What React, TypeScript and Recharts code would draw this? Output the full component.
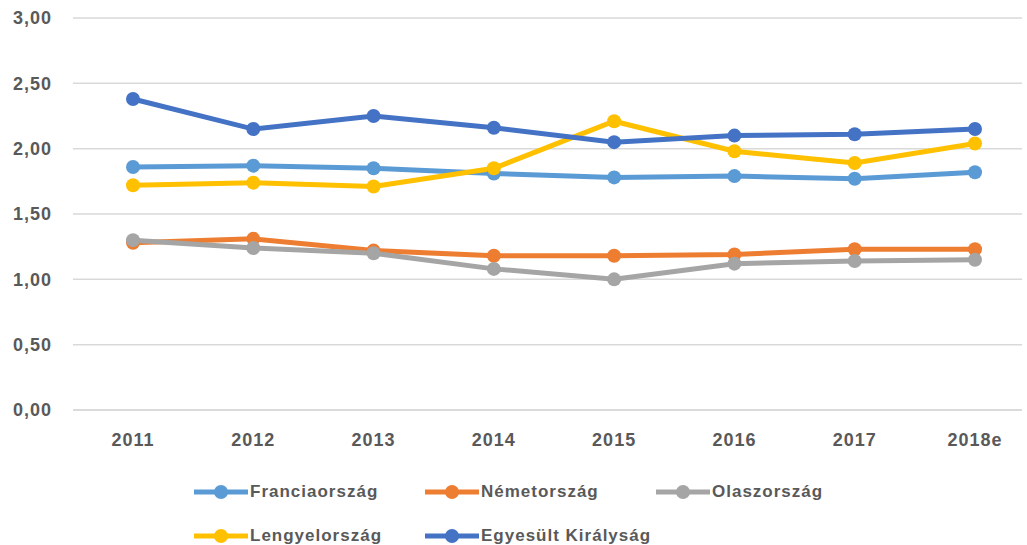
import { LineChart, Line, XAxis, YAxis, CartesianGrid } from "recharts";

const years = ["2011", "2012", "2013", "2014", "2015", "2016", "2017", "2018e"];
const francia = [1.86, 1.87, 1.85, 1.81, 1.78, 1.79, 1.77, 1.82];
const nemet = [1.28, 1.31, 1.22, 1.18, 1.18, 1.19, 1.23, 1.23];
const olasz = [1.3, 1.24, 1.2, 1.08, 1.0, 1.12, 1.14, 1.15];
const lengyel = [1.72, 1.74, 1.71, 1.85, 2.21, 1.98, 1.89, 2.04];
const egyesult = [2.38, 2.15, 2.25, 2.16, 2.05, 2.1, 2.11, 2.15];
const yTicks = [0, 0.5, 1, 1.5, 2, 2.5, 3];

const series = [
  { key: "francia", name: "Franciaország", color: "#5B9BD5" },
  { key: "nemet", name: "Németország", color: "#ED7D31" },
  { key: "olasz", name: "Olaszország", color: "#A5A5A5" },
  { key: "lengyel", name: "Lengyelország", color: "#FFC000" },
  { key: "egyesult", name: "Egyesült Királyság", color: "#4472C4" },
];

const data = years.map((year, i) => ({
  year,
  francia: francia[i],
  nemet: nemet[i],
  olasz: olasz[i],
  lengyel: lengyel[i],
  egyesult: egyesult[i],
}));

const FONT = '"Liberation Sans", Arial, sans-serif';
const TEXT = "#595959";
const tickStyle = { fill: TEXT, fontSize: 18, fontWeight: 700, fontFamily: FONT, letterSpacing: 1 };

const LegendItem = ({ name, color }: { name: string; color: string }) => (
  <div style={{ display: "flex", alignItems: "center", width: 231 }}>
    <svg width={56} height={16} style={{ flexShrink: 0 }}>
      <line x1={1} y1={8} x2={55} y2={8} stroke={color} strokeWidth={5} />
      <circle cx={28} cy={8} r={7} fill={color} />
    </svg>
    <span style={{ fontSize: 17, fontWeight: 700, color: TEXT, marginLeft: 1, letterSpacing: 1 }}>{name}</span>
  </div>
);

export default function App() {
  return (
    <div
      style={{
        position: "absolute",
        left: 0,
        top: 0,
        width: 1027,
        height: 545,
        background: "#fff",
        fontFamily: FONT,
      }}
    >
      <LineChart width={1027} height={545} data={data} margin={{ top: 18, right: 5, bottom: 95, left: 0 }}>
        <CartesianGrid vertical={false} stroke="#d9d9d9" strokeWidth={1.5} />
        <XAxis
          dataKey="year"
          padding={{ left: 60, right: 47 }}
          axisLine={{ stroke: "#d9d9d9", strokeWidth: 1.5 }}
          tickLine={false}
          tickSize={0}
          tickMargin={23}
          height={40}
          tick={tickStyle}
        />
        <YAxis
          domain={[0, 3]}
          ticks={yTicks}
          width={73}
          axisLine={false}
          tickLine={false}
          tickSize={0}
          tickMargin={21}
          tickFormatter={(v: number) => v.toFixed(2).replace(".", ",")}
          tick={tickStyle}
        />
        {series.map((s) => (
          <Line
            key={s.key}
            dataKey={s.key}
            name={s.name}
            stroke={s.color}
            strokeWidth={5}
            dot={{ r: 7, fill: s.color, stroke: s.color, strokeWidth: 0 }}
            activeDot={false}
            isAnimationActive={false}
          />
        ))}
      </LineChart>
      <div style={{ position: "absolute", left: 193, top: 482 }}>
        <div style={{ display: "flex" }}>
          {series.slice(0, 3).map((s) => (
            <LegendItem key={s.key} name={s.name} color={s.color} />
          ))}
        </div>
        <div style={{ display: "flex", marginTop: 24 }}>
          {series.slice(3).map((s) => (
            <LegendItem key={s.key} name={s.name} color={s.color} />
          ))}
        </div>
      </div>
    </div>
  );
}
